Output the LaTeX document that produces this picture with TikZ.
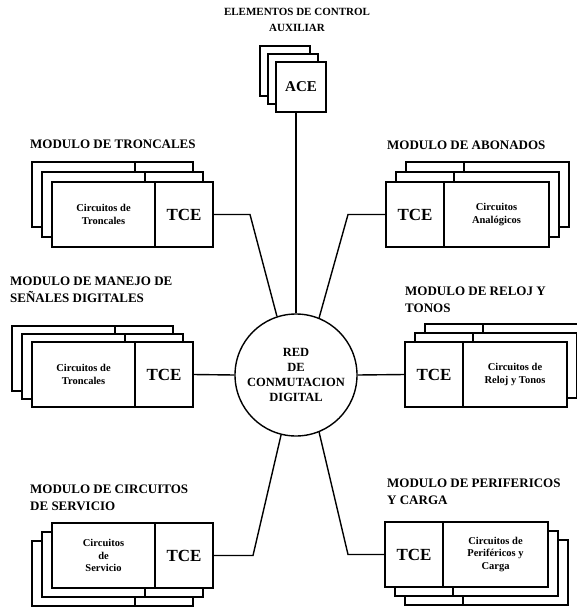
\documentclass[tikz,border=0pt]{standalone}
\usepackage{fontspec}
\setmainfont{Liberation Serif}

\begin{document}
\begin{tikzpicture}[x=1pt, y=-1pt,
  hoja/.style={draw, fill=white, line width=1.4pt, inner sep=0pt, outer sep=0pt,
               minimum height=65pt, anchor=north west},
  circ/.style={hoja, minimum width=103pt, align=center,
               font=\fontsize{10.5}{12.5}\selectfont\bfseries},
  tce/.style={hoja, minimum width=58pt, font=\fontsize{17}{17}\selectfont\bfseries},
  acebox/.style={hoja, minimum width=50pt, minimum height=50pt,
               font=\fontsize{15}{15}\selectfont\bfseries},
  titulo/.style={anchor=north west, align=left, inner sep=0pt,
               font=\fontsize{13}{17}\selectfont\bfseries},
  linea/.style={line width=1.4pt}]

\useasboundingbox (0,0) rectangle (576,609);

\node[titulo, anchor=north, align=center, font=\fontsize{11}{16}\selectfont\bfseries]
  (tace) at (297,8) {ELEMENTOS DE CONTROL\\AUXILIAR};
\node[acebox] (ace2) at (260,46) {};
\node[acebox] (ace1) at (268,54) {};
\node[acebox] (ace) at (276,62) {ACE};

\node[titulo] (ttr) at (30,140) {MODULO DE TRONCALES};
\node[circ] (trc2) at (32,162) {};
\node[tce] (trt2) at (trc2.north east) {};
\node[circ] (trc1) at (42,172) {};
\node[tce] (trt1) at (trc1.north east) {};
\node[circ] (trc) at (52,182) {Circuitos de\\Troncales};
\node[tce] (trt) at (trc.north east) {TCE};

\node[titulo] (tab) at (387,141) {MODULO DE ABONADOS};
\node[tce] (abt2) at (406,162) {};
\node[circ, minimum width=105pt] (abc2) at (abt2.north east) {};
\node[tce] (abt1) at (396,172) {};
\node[circ, minimum width=105pt] (abc1) at (abt1.north east) {};
\node[tce] (abt) at (386,182) {TCE};
\node[circ, minimum width=105pt] (abc) at (abt.north east) {Circuitos\\Analógicos};

\node[titulo] (tmj) at (10,277) {MODULO DE MANEJO DE\\SEÑALES DIGITALES};
\node[circ] (mjc2) at (12,326) {};
\node[tce] (mjt2) at (mjc2.north east) {};
\node[circ] (mjc1) at (22,334) {};
\node[tce] (mjt1) at (mjc1.north east) {};
\node[circ] (mjc) at (32,342) {Circuitos de\\Troncales};
\node[tce] (mjt) at (mjc.north east) {TCE};

\node[titulo] (trl) at (405,287) {MODULO DE RELOJ Y\\TONOS};
\node[tce] (rlt2) at (425,324) {};
\node[circ, minimum width=104pt] (rlc2) at (rlt2.north east) {};
\node[tce] (rlt1) at (415,333) {};
\node[circ, minimum width=104pt] (rlc1) at (rlt1.north east) {};
\node[tce] (rlt) at (405,342) {TCE};
\node[circ, minimum width=104pt] (rlc) at (rlt.north east) {Circuitos de\\Reloj y Tonos};

\node[titulo] (tsv) at (30,485) {MODULO DE CIRCUITOS\\DE SERVICIO};
\node[circ] (svc2) at (32,541) {};
\node[tce] (svt2) at (svc2.north east) {};
\node[circ] (svc1) at (42,532) {};
\node[tce] (svt1) at (svc1.north east) {};
\node[circ] (svc) at (52,523) {Circuitos\\de\\Servicio};
\node[tce] (svt) at (svc.north east) {TCE};

\node[titulo] (tpf) at (387,479) {MODULO DE PERIFERICOS\\Y CARGA};
\node[tce] (pft2) at (405,540) {};
\node[circ, minimum width=105pt] (pfc2) at (pft2.north east) {};
\node[tce] (pft1) at (395,531) {};
\node[circ, minimum width=105pt] (pfc1) at (pft1.north east) {};
\node[tce] (pft) at (385,522) {TCE};
\node[circ, minimum width=105pt] (pfc) at (pft.north east) {Circuitos de\\Periféricos y\\Carga};

\node[draw, circle, line width=1.4pt, minimum size=122pt, inner sep=0pt, align=center,
  font=\fontsize{12.5}{15}\selectfont\bfseries] (red) at (296,375)
  {RED\\DE\\CONMUTACION\\DIGITAL};

\coordinate (cTL) at (250,214.5);
\coordinate (cTR) at (348,214.5);
\coordinate (cBL) at (253,555.5);
\coordinate (cBR) at (348,554.5);

\draw[linea] (red.north) -- (red.north |- ace.south);
\draw[linea] (trt.east) -- (cTL) -- (red.108);
\draw[linea] (abt.west) -- (cTR) -- (red.68);
\draw[linea] (mjt.east) -- (red.west);
\draw[linea] (rlt.west) -- (red.east);
\draw[linea] (svt.east) -- (cBL) -- (red.256);
\draw[linea] (pft.west) -- (cBR) -- (red.292);

\end{tikzpicture}
\end{document}
